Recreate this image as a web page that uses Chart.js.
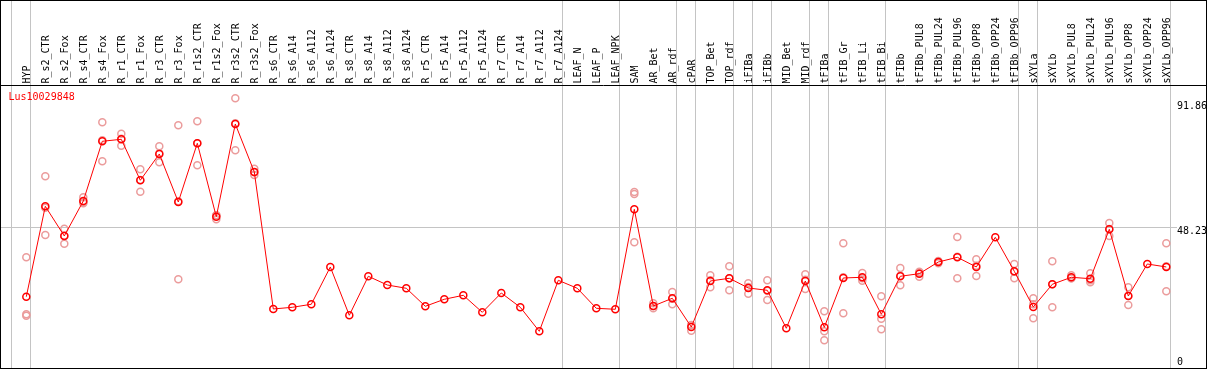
<!DOCTYPE html>
<html>
<head>
<meta charset="utf-8">
<script src="https://cdn.jsdelivr.net/npm/chart.js@4.4.1/dist/chart.umd.min.js"></script>
<style>
  html, body { margin: 0; padding: 0; background: #fff; }
  #wrap { width: 1209px; height: 370px; }
</style>
</head>
<body>
<div id="wrap"><canvas id="expr" width="1209" height="370"></canvas></div>
<script>
// gene shown in the profile
const geneId = 'Lus10029848';

// samples (x categories)
const samples = [
    'HYP', 'R_s2_CTR', 'R_s2_Fox', 'R_s4_CTR', 'R_s4_Fox', 'R_r1_CTR', 'R_r1_Fox', 'R_r3_CTR', 'R_r3_Fox',
    'R_r1s2_CTR', 'R_r1s2_Fox', 'R_r3s2_CTR', 'R_r3s2_Fox',
    'R_s6_CTR', 'R_s6_A14', 'R_s6_A112', 'R_s6_A124', 'R_s8_CTR', 'R_s8_A14', 'R_s8_A112', 'R_s8_A124',
    'R_r5_CTR', 'R_r5_A14', 'R_r5_A112', 'R_r5_A124', 'R_r7_CTR', 'R_r7_A14', 'R_r7_A112', 'R_r7_A124',
    'LEAF_N', 'LEAF_P', 'LEAF_NPK', 'SAM', 'AR_Bet', 'AR_rdf', 'cPAR', 'TOP_Bet', 'TOP_rdf',
    'iFIBa', 'iFIBb', 'MID_Bet', 'MID_rdf', 'tFIBa', 'tFIB_Gr', 'tFIB_Li', 'tFIB_Bi',
    'tFIBb', 'tFIBb_PUL8', 'tFIBb_PUL24', 'tFIBb_PUL96', 'tFIBb_OPP8', 'tFIBb_OPP24', 'tFIBb_OPP96',
    'sXYLa', 'sXYLb', 'sXYLb_PUL8', 'sXYLb_PUL24', 'sXYLb_PUL96', 'sXYLb_OPP8', 'sXYLb_OPP24', 'sXYLb_OPP96'
];

// mean expression (red line)
const means = [
    24.12, 55.67, 45.31, 57.52, 78.36, 79.06, 64.75, 73.93, 57.17,
    77.66, 52.04, 84.40, 67.64,
    19.83, 20.42, 21.47, 34.49, 17.63, 31.24, 28.20, 27.05,
    20.77, 23.21, 24.61, 18.67, 25.41, 20.42, 12.04, 29.84,
    27.05, 20.07, 19.72, 54.62, 20.87, 23.56, 13.54, 29.60, 30.54,
    27.16, 26.35, 13.09, 29.60, 13.44, 30.65, 30.89, 17.98,
    31.24, 32.15, 36.23, 37.87, 34.49, 44.85, 32.98,
    20.52, 28.45, 30.89, 30.40, 47.64, 24.36, 35.53, 34.49
];

// replicates (light circles), null where none shown
const rep1 = [
    37.87, 66.14, 47.85, 58.81, 84.99, 81.01, 68.59, 76.61, 83.94,
    85.34, 52.53, 93.37, 68.80,
    null, null, null, null, null, null, null, null,
    null, null, null, null, null, null, null, null,
    null, null, null, 60.66, 21.82, 25.76, 14.14, 31.59, 34.73,
    28.80, 29.84, null, 31.94, 19.02, 42.76, 32.39, 24.26,
    34.14, 32.84, 36.58, 44.96, 37.17, null, 35.53,
    23.56, 36.47, 31.59, 32.29, 49.84, 27.40, null, 42.76
];
const rep2 = [
    17.98, 45.65, 42.62, 56.72, 71.38, 76.82, 60.77, 71.03, 30.19,
    69.98, 51.13, 75.22, 66.60,
    null, null, null, null, null, null, null, null,
    null, null, null, null, null, null, null, null,
    null, null, null, 59.97, 20.07, 21.47, 12.25, 27.40, 26.35,
    25.17, 22.97, null, 26.81, 12.04, 18.32, 29.70, 16.44,
    28.10, 31.10, 35.78, 30.54, 31.34, null, 30.54,
    16.58, 20.42, 30.54, 29.14, 45.31, 21.22, null, 26.00
];
const rep3 = [
    17.49, 55.18, 45.41, 57.07, 78.71, 79.27, 64.85, 74.17, 57.42,
    77.66, 52.53, 84.64, 67.54,
    null, null, null, null, null, null, null, null,
    null, null, null, null, null, null, null, null,
    null, null, null, 43.11, 20.87, 23.42, 14.24, 29.84, 30.54,
    27.50, 26.21, null, 30.05, 8.90, 30.89, 30.54, 12.74,
    31.45, 32.50, 36.34, 38.08, 34.94, null, 32.84,
    21.47, 28.45, 30.54, 29.84, 47.75, 24.47, null, 34.73
];

// sample group boundaries (index of last sample in each group)
const groupEnds = [-1, 0, 28, 31, 34, 35, 37, 38, 39, 41, 42, 45, 52, 53, 60];

// y tick labels
const yTicks = [0, 48.23, 91.86];

const MONO = '"DejaVu Sans Mono", "Liberation Mono", monospace';

const repPoints = [];
[rep1, rep2, rep3].forEach(rep => {
    rep.forEach((v, i) => {
        if (v !== null) repPoints.push({ x: i, y: v });
    });
});

// outer frame, header divider and gene name
const framePlugin = {
    id: 'frame',
    afterDraw(chart) {
        const { ctx, chartArea } = chart;
        ctx.save();
        ctx.strokeStyle = '#000';
        ctx.lineWidth = 1;
        ctx.strokeRect(0.5, 0.5, 1206, 368);
        ctx.beginPath();
        ctx.moveTo(0, chartArea.top - 0.5);
        ctx.lineTo(1207, chartArea.top - 0.5);
        ctx.stroke();
        ctx.fillStyle = '#ff0000';
        ctx.font = '10px ' + MONO;
        ctx.textBaseline = 'middle';
        ctx.fillText(geneId, chartArea.left + 7.5, chartArea.top + 11);
        ctx.restore();
    }
};

const X_MIN = -1.332, X_MAX = 60.563;

new Chart(document.getElementById('expr').getContext('2d'), {
    type: 'scatter',
    data: {
        datasets: [{
            label: geneId,
            data: means.map((v, i) => ({ x: i, y: v })),
            showLine: true,
            borderColor: '#ff0000',
            borderWidth: 1,
            tension: 0,
            pointRadius: 3.5,
            pointHoverRadius: 3.5,
            pointBorderWidth: 1.5,
            pointBorderColor: '#ff0000',
            pointBackgroundColor: 'rgba(0,0,0,0)'
        }, {
            label: 'replicates',
            data: repPoints,
            showLine: false,
            pointRadius: 3.5,
            pointHoverRadius: 3.5,
            pointBorderWidth: 1.5,
            pointBorderColor: '#eb9c9c',
            pointBackgroundColor: 'rgba(0,0,0,0)'
        }]
    },
    options: {
        responsive: false,
        animation: false,
        devicePixelRatio: 1,
        layout: { autoPadding: false, padding: { left: 1, right: 2, top: 0, bottom: 1 } },
        plugins: {
            legend: { display: false },
            tooltip: { enabled: false }
        },
        scales: {
            // group separator lines, full height
            x: {
                type: 'linear',
                position: 'top',
                weight: 0,
                min: X_MIN,
                max: X_MAX,
                afterBuildTicks: s => { s.ticks = groupEnds.map(k => ({ value: k + 0.22 })); },
                afterFit: s => { s.height = 0; s.paddingLeft = 0; s.paddingRight = 0; },
                ticks: { display: false },
                grid: { color: '#c4c4c4', lineWidth: 1, drawTicks: true, tickLength: 86 },
                border: { display: false }
            },
            // sample names
            xl: {
                type: 'linear',
                position: 'top',
                weight: 1,
                display: true,
                min: X_MIN,
                max: X_MAX,
                afterBuildTicks: s => { s.ticks = samples.map((_, i) => ({ value: i })); },
                afterFit: s => { s.height = 86; s.paddingLeft = 0; s.paddingRight = 0; },
                ticks: {
                    autoSkip: false,
                    minRotation: 90,
                    maxRotation: 90,
                    padding: 2.5,
                    labelOffset: 3,
                    color: '#000',
                    font: { family: MONO, size: 10, lineHeight: 0.2 },
                    callback: v => samples[v]
                },
                grid: { display: false, drawTicks: false },
                border: { display: false }
            },
            y: {
                type: 'linear',
                position: 'right',
                min: -1.12,
                max: 97.66,
                afterBuildTicks: s => { s.ticks = yTicks.map(v => ({ value: v })); },
                afterFit: s => { s.width = 30; s.paddingTop = 0; s.paddingBottom = 0; },
                ticks: {
                    padding: 0,
                    color: '#000',
                    font: { family: MONO, size: 10, lineHeight: 0.7 },
                    callback: v => v === 0 ? ['0', ''] : ['', String(v)]
                },
                grid: {
                    drawTicks: false,
                    color: c => (c.tick && c.tick.value === 48.23) ? '#c4c4c4' : 'rgba(0,0,0,0)'
                },
                border: { display: false }
            }
        }
    },
    plugins: [framePlugin]
});
</script>
</body>
</html>
